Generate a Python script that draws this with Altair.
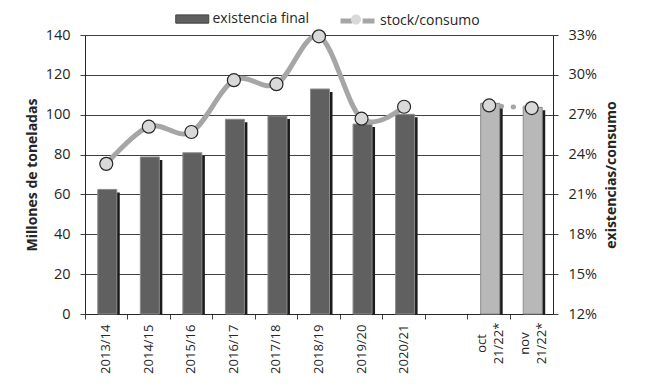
import altair as alt
import pandas as pd

categories = ["2013/14", "2014/15", "2015/16", "2016/17", "2017/18", "2018/19",
              "2019/20", "2020/21", " ", "oct|21/22*", "nov|21/22*"]
existencia = [62.5, 78.8, 80.9, 97.7, 99.3, 112.9, 95.3, 100.2, None, 105.7, 103.7]
ratio = [23.3, 26.1, 25.7, 29.6, 29.3, 32.9, 26.7, 27.6, None, 27.7, 27.5]
tipo = ["hist"] * 8 + ["blank"] + ["proy"] * 2
serie = ["existencia final"] * 8 + [None] + ["proyección"] * 2

left_ticks = [0, 20, 40, 60, 80, 100, 120, 140]
right_ticks = [12, 15, 18, 21, 24, 27, 30, 33]

df = pd.DataFrame({"cat": categories, "existencia": existencia, "ratio": ratio,
                   "tipo": tipo, "serie": serie})

FONT = "Open Sans"
TXT = "#262626"
MULTI = "indexof(datum.value, '|') >= 0"
LEG_Y = -25

x_enc = alt.X(
    "cat:N",
    sort=categories,
    scale=alt.Scale(domain=categories, paddingInner=0, paddingOuter=0),
    axis=alt.Axis(
        title=None, bandPosition=0, labelAngle=270,
        labelAlign=alt.condition(MULTI, alt.value("center"), alt.value("right")),
        labelPadding=alt.condition(MULTI, alt.value(24), alt.value(5)),
        labelOffset=alt.condition(MULTI, alt.value(-7), alt.value(0)),
        labelBaseline="middle",
        labelExpr="split(datum.label, '|')",
        labelFont=FONT, labelFontSize=13, labelColor=TXT, labelLineHeight=17,
        tickSize=5, tickColor="#404040", domainColor="#262626", grid=False,
        labelOverlap=False,
    ),
)

base = alt.Chart(df)

left_scale = alt.Scale(domain=[0, 140], nice=False)
left_axis = alt.Axis(
    values=left_ticks, title="Millones de toneladas", titleFont=FONT, titleFontSize=14,
    titleFontWeight="bold", titleColor=TXT, titlePadding=6,
    labelFont=FONT, labelFontSize=14.5, labelColor=TXT, labelPadding=10,
    tickSize=5, tickColor="#404040", domainColor="#262626",
    grid=True, gridColor="#404040", gridWidth=1,
)

shadow = base.transform_filter("isValid(datum.existencia)").mark_bar(
    color="#1c1c1c", size=19, xOffset=4, yOffset=3, clip=True
).encode(x=x_enc, y=alt.Y("existencia:Q", scale=left_scale, axis=left_axis))

bars = base.transform_filter("isValid(datum.existencia)").mark_bar(
    size=19, xOffset=1, stroke="#8c8c8c", strokeWidth=1
).encode(
    x=x_enc,
    y=alt.Y("existencia:Q", scale=left_scale, axis=left_axis),
    fill=alt.Fill(
        "serie:N",
        scale=alt.Scale(domain=["existencia final", "proyección"], range=["#606060", "#b8b8b8"]),
        legend=alt.Legend(
            title=None, orient="none", legendX=98.25, legendY=LEG_Y, values=["existencia final"],
            symbolType="M-2,-0.5H2V0.5H-2Z", symbolSize=272.25, symbolStrokeColor="#404040",
            symbolStrokeWidth=1, labelFont=FONT, labelFontSize=14, labelColor=TXT,
            labelOffset=11.25,
        ),
    ),
)

left = alt.layer(shadow, bars)

right_scale = alt.Scale(domain=[12, 33], nice=False)
right_axis = alt.Axis(
    orient="right", values=right_ticks, labelExpr="datum.value + '%'",
    title="existencias/consumo", titleAngle=270, titleBaseline="top",
    titleFont=FONT, titleFontSize=14, titleFontWeight="bold", titleColor=TXT, titlePadding=8,
    labelFont=FONT, labelFontSize=14.5, labelColor=TXT, labelPadding=10,
    tickSize=5, tickColor="#404040", domainColor="#262626", grid=False,
)

line = base.transform_filter("datum.tipo == 'hist'").transform_calculate(
    serie_l="'stock/consumo'"
).mark_line(interpolate="cardinal", strokeWidth=5, strokeCap="round").encode(
    x=x_enc,
    y=alt.Y("ratio:Q", scale=right_scale, axis=right_axis),
    stroke=alt.Stroke(
        "serie_l:N",
        scale=alt.Scale(domain=["stock/consumo"], range=["#a6a6a6"]),
        legend=alt.Legend(
            title=None, orient="none", legendX=261.5, legendY=LEG_Y,
            symbolType="M-2,0H-0.6M0.6,0H2", symbolSize=289, symbolStrokeWidth=5,
            labelFont=FONT, labelFontSize=14, labelColor=TXT, labelOffset=11.5,
        ),
    ),
)

dotted = base.transform_filter("datum.tipo == 'proy'").mark_line(
    strokeDash=[0.5, 11.5], strokeCap="round", strokeWidth=5, color="#a6a6a6"
).encode(x=x_enc, y=alt.Y("ratio:Q", scale=right_scale, axis=right_axis))

circle_path = "M-0.59,0A0.59,0.59 0 1,1 0.59,0A0.59,0.59 0 1,1 -0.59,0Z"
points = base.transform_filter("isValid(datum.ratio)").transform_calculate(
    serie_p="'punto'"
).mark_point(filled=True, fill="#d9d9d9", stroke="#262626", strokeWidth=1.2, size=484, opacity=1).encode(
    x=x_enc,
    y=alt.Y("ratio:Q", scale=right_scale, axis=right_axis),
    shape=alt.Shape(
        "serie_p:N",
        scale=alt.Scale(domain=["punto"], range=[circle_path]),
        legend=alt.Legend(
            title=None, orient="none", legendX=261.5, legendY=LEG_Y,
            symbolSize=289, symbolFillColor="#d9d9d9", symbolStrokeColor="#262626",
            symbolStrokeWidth=1.2, labelExpr="''", labelFontSize=1,
        ),
    ),
)

right = alt.layer(line, dotted, points)

chart = alt.layer(left, right).resolve_scale(y="independent").properties(
    width=468, height=279,
    padding={"left": 77, "top": 27, "right": 98, "bottom": 68},
    autosize=alt.AutoSizeParams(type="none"),
).configure_view(stroke=None).configure(background="white")

chart.save("out.html", embed_options={"renderer": "svg", "actions": False})
